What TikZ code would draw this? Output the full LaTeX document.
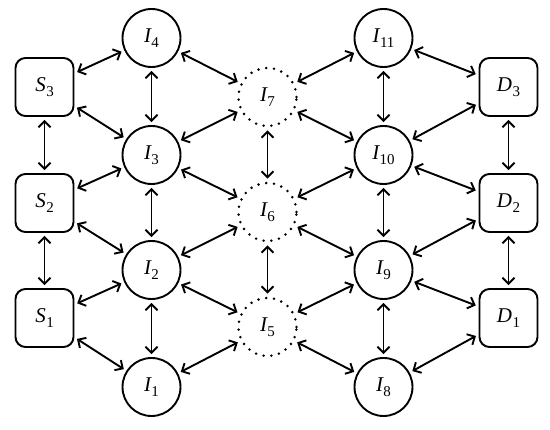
\documentclass[tikz,border=0pt]{standalone}
\usepackage{fontspec}
\setmainfont{Liberation Serif}
\usetikzlibrary{arrows.meta}
\newcommand{\lab}[2]{{\fontsize{21}{24}\selectfont\itshape #1}\kern0.5pt\raisebox{-5pt}{\fontsize{15}{17}\selectfont #2}}
\tikzset{
  nd/.style={circle, draw, line width=1.9pt, minimum size=58pt, inner sep=0pt},
  dnd/.style={circle, draw, line width=2.8pt, dash pattern=on 0pt off 7.8pt, line cap=round, minimum size=58pt, inner sep=0pt},
  bx/.style={rectangle, rounded corners=10pt, draw, line width=1.9pt, minimum size=58pt, inner sep=0pt},
  lk/.style={{Straight Barb[length=6pt,width=12pt]}-{Straight Barb[length=6pt,width=12pt]}, line width=1.9pt, shorten >=3pt, shorten <=3pt}
}
\begin{document}
\begin{tikzpicture}[x=1pt,y=-1pt]
\useasboundingbox (0,0) rectangle (550,430);
% sources
\node[bx] (S3) at (44.5,87) {\lab{S}{3}};
\node[bx] (S2) at (44.5,203) {\lab{S}{2}};
\node[bx] (S1) at (44.5,318) {\lab{S}{1}};
% left column
\node[nd] (I4) at (151.5,38) {\lab{I}{4}};
\node[nd] (I3) at (151.5,155) {\lab{I}{3}};
\node[nd] (I2) at (151.5,270) {\lab{I}{2}};
\node[nd] (I1) at (151.5,387) {\lab{I}{1}};
% middle column
\node[dnd] (I7) at (267.5,97) {\lab{I}{7}};
\node[dnd] (I6) at (267.5,212) {\lab{I}{6}};
\node[dnd] (I5) at (267.5,327) {\lab{I}{5}};
% right column
\node[nd] (I11) at (383.5,38) {\lab{I}{11}};
\node[nd] (I10) at (383.5,155) {\lab{I}{10}};
\node[nd] (I9) at (383.5,270) {\lab{I}{9}};
\node[nd] (I8) at (383.5,387) {\lab{I}{8}};
% destinations
\node[bx] (D3) at (508.5,87) {\lab{D}{3}};
\node[bx] (D2) at (508.5,203) {\lab{D}{2}};
\node[bx] (D1) at (508.5,318) {\lab{D}{1}};
% links
\draw[lk] (S3) -- (I4);
\draw[lk] (S3) -- (I3);
\draw[lk] (S3) -- (S2);
\draw[lk] (S2) -- (I3);
\draw[lk] (S2) -- (I2);
\draw[lk] (S2) -- (S1);
\draw[lk] (S1) -- (I2);
\draw[lk] (S1) -- (I1);
\draw[lk] (I4) -- (I3);
\draw[lk] (I3) -- (I2);
\draw[lk] (I2) -- (I1);
\draw[lk] (I4) -- (I7);
\draw[lk] (I3) -- (I7);
\draw[lk] (I3) -- (I6);
\draw[lk] (I2) -- (I6);
\draw[lk] (I2) -- (I5);
\draw[lk] (I1) -- (I5);
\draw[lk] (I7) -- (I6);
\draw[lk] (I6) -- (I5);
\draw[lk] (I7) -- (I11);
\draw[lk] (I7) -- (I10);
\draw[lk] (I6) -- (I10);
\draw[lk] (I6) -- (I9);
\draw[lk] (I5) -- (I9);
\draw[lk] (I5) -- (I8);
\draw[lk] (I11) -- (I10);
\draw[lk] (I10) -- (I9);
\draw[lk] (I9) -- (I8);
\draw[lk] (I11) -- (D3);
\draw[lk] (I10) -- (D3);
\draw[lk] (I10) -- (D2);
\draw[lk] (I9) -- (D2);
\draw[lk] (I9) -- (D1);
\draw[lk] (I8) -- (D1);
\draw[lk] (D3) -- (D2);
\draw[lk] (D2) -- (D1);
\end{tikzpicture}
\end{document}
